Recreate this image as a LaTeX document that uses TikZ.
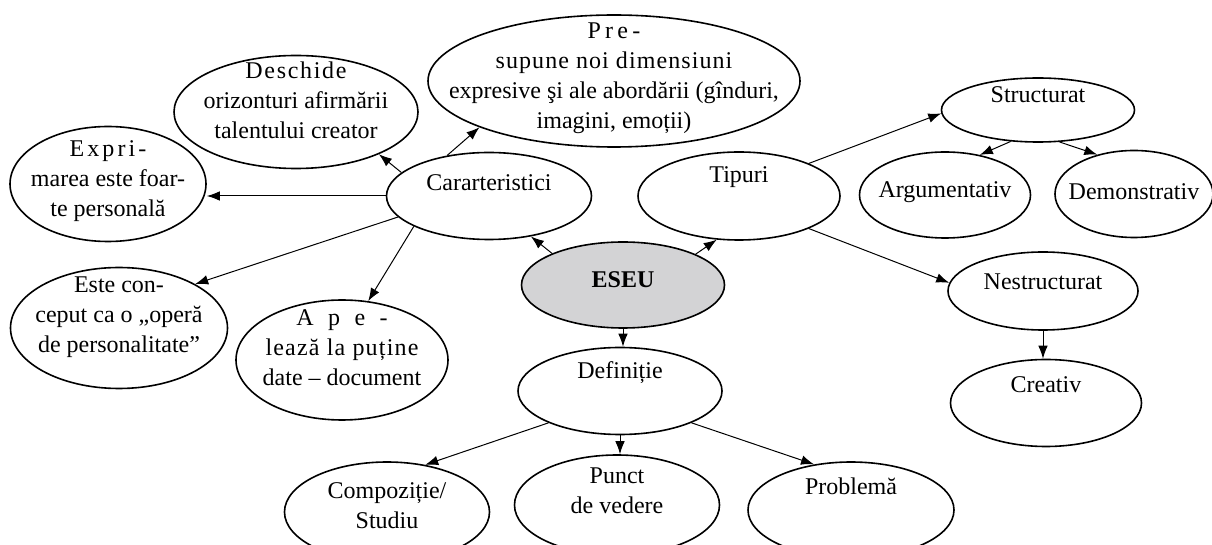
\documentclass[tikz,border=0pt]{standalone}
\usepackage{fontspec}
\setmainfont{Liberation Serif}
\usetikzlibrary{arrows.meta,shapes.geometric}
\definecolor{eseugray}{RGB}{211,211,213}

\begin{document}
\begin{tikzpicture}[
    x=0.5pt, y=-0.5pt,
    bub/.style={ellipse, draw, line width=0.8pt, inner sep=0pt},
    txt/.style={align=center, anchor=center, font=\fontsize{12}{15}\selectfont, inner sep=0pt},
    arr/.style={-{Latex[length=6.5pt,width=4.8pt]}, line width=0.5pt},
]
\useasboundingbox (0,0) rectangle (1212,545);

% centre
\node[bub, fill=eseugray, minimum width=101.5pt, minimum height=43pt,
      label={[txt, yshift=-19pt]north:\textbf{ESEU}}] (eseu) at (623,285) {};

% caracteristici
\node[bub, minimum width=102.5pt, minimum height=43.5pt,
      label={[txt, yshift=-15.5pt]north:Cararteristici}] (carac) at (489,196) {};
\node[bub, minimum width=186pt, minimum height=66pt,
      label={[txt, yshift=-32pt]north:{{\addfontfeature{LetterSpace=18}Pre-}\\{\addfontfeature{LetterSpace=4.5}supune noi dimensiuni}\\expresive şi ale abordării (gînduri,\\imagini, emoții)}}] (pres) at (614,81) {};
\node[bub, minimum width=122pt, minimum height=56.5pt,
      label={[txt, yshift=-23pt]north:{{\addfontfeature{LetterSpace=7}Deschide}\\orizonturi afirmării\\talentului creator}}] (desc) at (296,112) {};
\node[bub, minimum width=98pt, minimum height=57.5pt,
      label={[txt, yshift=-27.5pt]north:{{\addfontfeature{LetterSpace=13}Expri-}\\marea este foar-\\te personală}}] (expr) at (108,184) {};
\node[bub, minimum width=108.5pt, minimum height=60.5pt,
      label={[txt, yshift=-25pt]north:{Este con-\\ceput ca o „operă\\de personalitate”}}] (este) at (119,328) {};
\node[bub, minimum width=106pt, minimum height=60pt,
      label={[txt, yshift=-24pt]north:{{\addfontfeature{LetterSpace=60}Ape-}\\{\addfontfeature{LetterSpace=5}lează la puține}\\date – document}}] (apel) at (342,360) {};

% tipuri
\node[bub, minimum width=101pt, minimum height=44pt,
      label={[txt, yshift=-13pt]north:Tipuri}] (tip) at (739,196) {};
\node[bub, minimum width=96.5pt, minimum height=32pt,
      label={[txt, yshift=-8.5pt]north:Structurat}] (struct) at (1038,110) {};
\node[bub, minimum width=85.5pt, minimum height=43pt,
      label={[txt, yshift=-20.5pt]north:Argumentativ}] (arg) at (945,195) {};
\node[bub, minimum width=79pt, minimum height=43.5pt,
      label={[txt, yshift=-21pt]north:Demonstrativ}] (demo) at (1134,194) {};
\node[bub, minimum width=95pt, minimum height=39pt,
      label={[txt, yshift=-15.5pt]north:Nestructurat}] (nestr) at (1043,291) {};
\node[bub, minimum width=95.5pt, minimum height=43.5pt,
      label={[txt, yshift=-13pt]north:Creativ}] (creat) at (1046,403) {};

% definitie
\node[bub, minimum width=102pt, minimum height=43.5pt,
      label={[txt, yshift=-13pt]north:Definiție}] (defin) at (620,391) {};
\node[bub, minimum width=102.5pt, minimum height=50pt,
      label={[txt, yshift=-22pt]north:{Compoziție/\\Studiu}}] (comp) at (387,512) {};
\node[bub, minimum width=102.5pt, minimum height=50pt,
      label={[txt, yshift=-18.5pt]north:{Punct\\de vedere}}] (punct) at (617,505) {};
\node[bub, minimum width=103pt, minimum height=48pt,
      label={[txt, yshift=-12.5pt]north:Problemă}] (probl) at (851,510) {};

% legaturi
\draw[arr] (eseu.156) -- (carac.316);
\draw[arr] (eseu.23) -- (tip.243);
\draw[arr] (eseu.south) -- (eseu.south |- defin.north);
\draw[arr] (carac.136) -- (pres.199);
\draw[arr] (carac.165) -- (desc.333);
\draw[arr] (carac.west) -- (carac.west -| expr.east);
\draw[arr] (carac.193) -- (este.30);
\draw[arr] (carac.202) -- (apel.66);
\draw[arr] (tip.25) -- (struct.182);
\draw[arr] (tip.335) -- (nestr.175);
\draw[arr] (struct.229) -- (arg.49);
\draw[arr] (struct.304) -- (demo.133);
\draw[arr] (nestr.south) -- (nestr.south |- creat.north);
\draw[arr] (defin.204) -- (comp.51);
\draw[arr] (defin.south) -- (defin.south |- punct.north);
\draw[arr] (defin.336) -- (probl.129);
\end{tikzpicture}
\end{document}
